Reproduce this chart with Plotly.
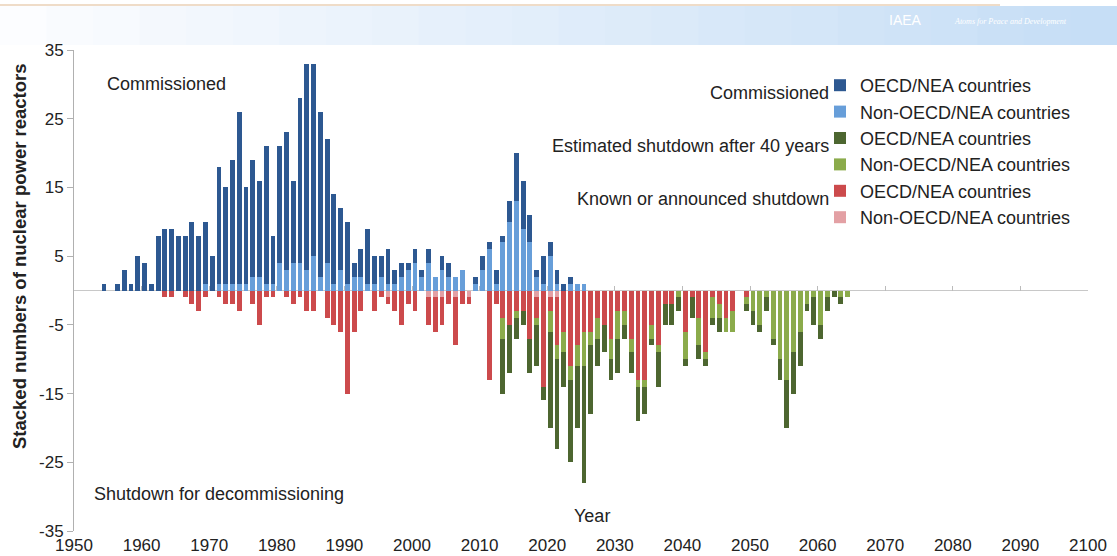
import plotly.graph_objects as go

# ---------------- data ----------------
# Commissioned reactors, 1954-2025
years_comm = list(range(1954, 2026))
comm_oecd = [1, 0, 1, 3, 1, 5, 4, 1, 8, 9,
             9, 8, 8, 10, 8, 9, 5, 17, 14, 18,
             25, 14, 17, 14, 20, 7, 17, 20, 12, 24,
             30, 28, 24, 18, 13, 9, 9, 2, 4, 8,
             4, 3, 5, 2, 2, 1, 2, 1, 2, 0,
             2, 2, 0, 0, 0, 1, 2, 1, 2, 1,
             3, 7, 7, 4, 1, 4, 2, 2, 1, 1,
             0, 0]
comm_non = [0, 0, 0, 0, 0, 0, 0, 0, 0, 0,
            0, 0, 0, 0, 0, 1, 0, 1, 1, 1,
            1, 1, 2, 2, 1, 1, 4, 3, 4, 4,
            3, 5, 2, 4, 1, 3, 1, 2, 2, 1,
            1, 2, 1, 1, 2, 3, 4, 2, 4, 2,
            3, 2, 2, 3, 0, 1, 3, 6, 1, 7,
            10, 13, 9, 7, 2, 1, 5, 1, 0, 1,
            1, 1]

# Known or announced shutdowns, 1963-2049 (counts, drawn downward)
years_known = list(range(1963, 2050))
known_oecd = [1, 1, 0, 1, 2, 3, 1, 0, 1, 2,
              2, 3, 0, 2, 5, 1, 1, 0, 1, 2,
              1, 3, 3, 0, 4, 5, 6, 15, 6, 3,
              0, 3, 1, 1, 3, 5, 2, 3, 0, 4,
              5, 4, 2, 7, 2, 1, 0, 0, 13, 2,
              4, 5, 3, 3, 7, 3, 14, 2, 7, 6,
              11, 8, 6, 6, 4, 5, 7, 3, 3, 7,
              13, 13, 5, 8, 2, 2, 0, 6, 1, 4,
              9, 1, 2, 4, 3, 0, 1]
known_non = [0, 0, 0, 0, 0, 0, 0, 0, 0, 0,
             0, 0, 0, 0, 0, 0, 0, 0, 0, 0,
             0, 0, 0, 0, 0, 0, 0, 0, 0, 0,
             0, 0, 0, 1, 0, 0, 0, 0, 0, 1,
             1, 1, 0, 1, 0, 1, 0, 0, 0, 0,
             0, 0, 0, 0, 0, 1, 0, 1, 1, 0,
             0, 0, 0, 0, 0, 0, 0, 0, 0, 0,
             0, 0, 0, 0, 0, 0, 0, 0, 0, 0,
             0, 0, 0, 0, 0, 0, 0]

# Estimated shutdown after 40 years, 2013-2064 (counts, drawn downward)
years_est = list(range(2013, 2065))
est_oecd = [8, 7, 3, 2, 5, 6, 2, 14, 13, 5,
            12, 9, 17, 10, 4, 4, 3, 5, 2, 3,
            5, 4, 1, 5, 3, 3, 2, 1, 3, 2,
            1, 1, 2, 0, 0, 0, 1, 2, 1, 2,
            1, 3, 7, 6, 5, 1, 4, 2, 2, 1,
            1, 0]
est_non = [3, 0, 1, 0, 0, 1, 0, 3, 2, 3,
           2, 3, 5, 2, 3, 0, 3, 4, 2, 2,
           1, 1, 2, 1, 0, 0, 1, 4, 0, 4,
           1, 3, 2, 2, 3, 0, 1, 3, 5, 1,
           7, 10, 13, 9, 6, 2, 1, 5, 1, 0,
           1, 1]

x_ticks = list(range(1950, 2101, 10))
x_tick_labels = [str(v) for v in x_ticks]
y_ticks = [35, 25, 15, 5, -5, -15, -25, -35]
y_tick_labels = ["35", "25", "15", "5", "-5", "-15", "-25", "-35"]

# ---------------- style ----------------
FONT = "Liberation Sans, Arial, sans-serif"
TXT = "#222222"
C_DB = "#2d5891"
C_LB = "#679ed9"
C_DG = "#4d6630"
C_LG = "#8bab4b"
C_RD = "#cc4a4c"
C_PK = "#e3a0a4"
BW, BO = 0.72, 0.08

fig = go.Figure()

def bar(x, y, name, color, rank):
    fig.add_trace(go.Bar(x=x, y=y, name=name, marker=dict(color=color, line=dict(width=0)),
                         width=BW, offset=BO, legendrank=rank))

bar(years_comm, comm_non, "Non-OECD/NEA countries", C_LB, 2)
bar(years_comm, comm_oecd, "OECD/NEA countries", C_DB, 1)
bar(years_known, [-v for v in known_non], "Non-OECD/NEA countries", C_PK, 6)
bar(years_known, [-v for v in known_oecd], "OECD/NEA countries", C_RD, 5)
bar(years_est, [-v for v in est_non], "Non-OECD/NEA countries", C_LG, 4)
bar(years_est, [-v for v in est_oecd], "OECD/NEA countries", C_DG, 3)

# helper axis drawing the zero line with its decade ticks
fig.add_trace(go.Scatter(x=[], y=[], xaxis="x2", showlegend=False, hoverinfo="skip"))

L, R, T, B = 74, 29, 50, 25
W, H = 1117, 556
PW, PH = W - L - R, H - T - B

def px(xp):
    return (xp - L) / PW

def py(yp):
    return (H - B - yp) / PH

shapes = []
# header band with a soft left-to-right gradient
n = 24
for i in range(n):
    t = i / (n - 1)
    r = int(252 - (252 - 198) * t)
    g = int(253 - (253 - 222) * t)
    b = int(255 - (255 - 246) * t)
    shapes.append(dict(type="rect", xref="paper", yref="paper",
                       x0=px(W * i / n), x1=px(W * (i + 1) / n) + 0.001,
                       y0=py(45), y1=py(6), fillcolor=f"rgb({r},{g},{b})",
                       line=dict(width=0), layer="below"))
shapes.append(dict(type="line", xref="paper", yref="paper", x0=px(0), x1=px(1000),
                   y0=py(5), y1=py(5), line=dict(color="#efdcc8", width=2)))

annotations = [
    dict(text="Commissioned", x=px(105), y=py(84), xanchor="left", yanchor="middle"),
    dict(text="Shutdown for decommissioning", x=px(92), y=py(494), xanchor="left", yanchor="middle"),
    dict(text="Year", x=px(592), y=py(516), xanchor="center", yanchor="middle"),
    dict(text="Commissioned", x=px(831), y=py(93), xanchor="right", yanchor="middle"),
    dict(text="Estimated shutdown after 40 years", x=px(831), y=py(146), xanchor="right", yanchor="middle"),
    dict(text="Known or announced shutdown", x=px(831), y=py(199), xanchor="right", yanchor="middle"),
    dict(text="<b>Stacked numbers of nuclear power reactors</b>", x=px(19), y=py(256), textangle=-90,
         xanchor="center", yanchor="middle", font=dict(size=18.5)),
    dict(text="IAEA", x=px(905), y=py(20), xanchor="center", yanchor="middle",
         font=dict(size=14, color="white", family=FONT)),
    dict(text="<i>Atoms for Peace and Development</i>", x=px(1010), y=py(21), xanchor="center",
         yanchor="middle", font=dict(size=8, color="white", family="Liberation Serif, serif")),
]
for a in annotations:
    a.setdefault("xref", "paper")
    a.setdefault("yref", "paper")
    a.setdefault("showarrow", False)
    a.setdefault("font", dict(size=18))
    a["font"].setdefault("family", FONT)
    a["font"].setdefault("color", TXT)

fig.update_layout(
    width=W, height=H,
    margin=dict(l=L, r=R, t=T, b=B, pad=0, autoexpand=False),
    paper_bgcolor="white", plot_bgcolor="white",
    barmode="relative", bargap=0,
    font=dict(family=FONT, size=18, color=TXT),
    showlegend=True,
    legend=dict(x=px(820), y=py(67), xanchor="left", yanchor="top",
                bgcolor="rgba(0,0,0,0)", font=dict(size=18, color=TXT),
                traceorder="normal", itemclick=False, itemdoubleclick=False),
    xaxis=dict(range=[1950, 2100], tickvals=x_ticks, ticktext=x_tick_labels,
               showline=False, showgrid=False, zeroline=False, ticks="",
               ticklabelstandoff=2, automargin=False,
               tickfont=dict(size=17, color=TXT), fixedrange=True),
    xaxis2=dict(range=[1950, 2100], overlaying="x", anchor="free", position=0.5,
                tickvals=x_ticks, ticks="inside", ticklen=5, tickcolor="#bbbbbb",
                showticklabels=False, showline=False, showgrid=False, zeroline=False,
                automargin=False),
    yaxis=dict(range=[-35, 35], tickvals=y_ticks, ticktext=y_tick_labels,
               showgrid=False, zeroline=True,
               zerolinecolor="#c8c8c8", zerolinewidth=1.5,
               showline=True, linecolor="#b0b0b0", linewidth=1,
               ticks="outside", ticklen=6, tickcolor="#b0b0b0", automargin=False,
               tickfont=dict(size=17, color=TXT), fixedrange=True),
    shapes=shapes,
    annotations=annotations,
)

fig.write_html("out.html", config={"displayModeBar": False, "staticPlot": True},
               post_script="document.body.style.margin='0px';")
